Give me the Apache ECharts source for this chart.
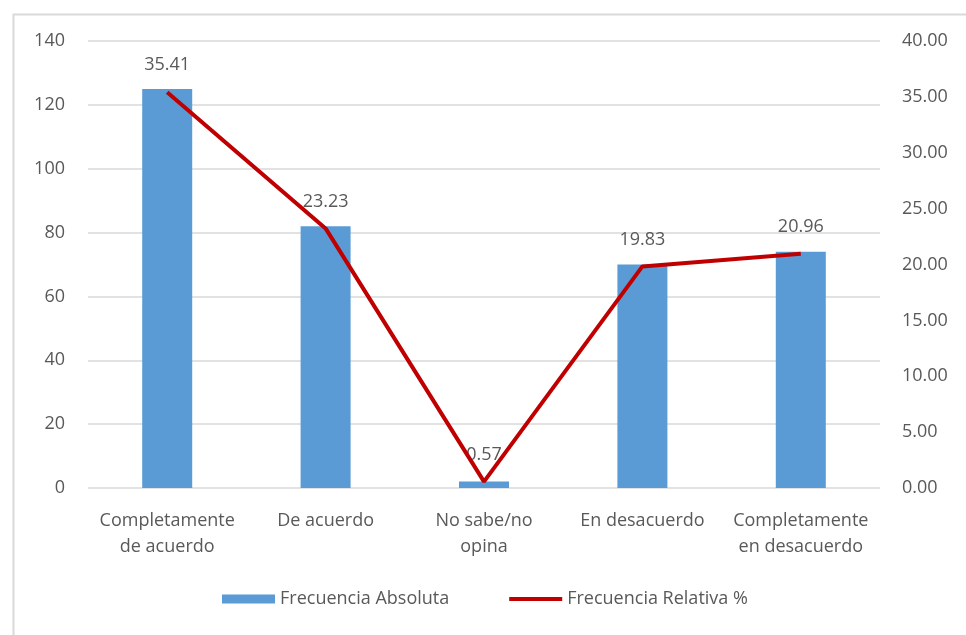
<!DOCTYPE html>
<html>
<head>
<meta charset="utf-8">
<script src="https://cdn.jsdelivr.net/npm/echarts@6/dist/echarts.min.js"></script>
<style>html,body{margin:0;padding:0;background:#fff;}#c{width:966px;height:635px;}</style>
</head>
<body>
<div id="c"></div>
<script>
const categories = ["Completamente\nde acuerdo", "De acuerdo", "No sabe/no\nopina", "En desacuerdo", "Completamente\nen desacuerdo"];
const absoluta = [125, 82, 2, 70, 74];
const relativa = [35.41, 23.23, 0.57, 19.83, 20.96];
const leftTicks = { min: 0, max: 140, interval: 20 };
const rightTicks = { min: 0, max: 40, interval: 5 };

const txt = '#595959';
const font = 'Open Sans';
const fs = 18;
const chart = echarts.init(document.getElementById('c'));
chart.setOption({
  animation: false,
  backgroundColor: '#fff',
  textStyle: { fontFamily: font },
  graphic: [{
    type: 'rect', left: 11, top: 12, shape: { width: 1000, height: 1000 },
    style: { fill: 'none', stroke: '#d9d9d9', lineWidth: 2 }, silent: true
  }],
  grid: { left: 88, right: 86, top: 41, bottom: 147 },
  legend: {
    bottom: 22, left: 217, itemWidth: 53, itemHeight: 9, itemGap: 60,
    textStyle: { color: txt, fontSize: fs, fontFamily: font },
    data: [
      { name: 'Frecuencia Absoluta', icon: 'rect' },
      { name: 'Frecuencia Relativa %', icon: 'path://M0,0L0,0M53,9L53,9M0,2.5L53,2.5L53,6.5L0,6.5Z' }
    ]
  },
  xAxis: {
    type: 'category', data: categories,
    axisLine: { show: false }, axisTick: { show: false },
    axisLabel: { color: txt, fontSize: fs, fontFamily: font, margin: 20, lineHeight: 26, interval: 0 }
  },
  yAxis: [{
    type: 'value', min: leftTicks.min, max: leftTicks.max, interval: leftTicks.interval,
    axisLine: { show: false }, axisTick: { show: false },
    axisLabel: { color: txt, fontSize: fs, fontFamily: font, margin: 23 },
    splitLine: { lineStyle: { color: '#d9d9d9', width: 1.5 } }
  }, {
    type: 'value', min: rightTicks.min, max: rightTicks.max, interval: rightTicks.interval,
    axisLine: { show: false }, axisTick: { show: false },
    axisLabel: { color: txt, fontSize: fs, fontFamily: font, margin: 22, formatter: v => v.toFixed(2) },
    splitLine: { show: false }
  }],
  series: [{
    name: 'Frecuencia Absoluta', type: 'bar', data: absoluta, barWidth: 50,
    itemStyle: { color: '#5b9bd5' }
  }, {
    name: 'Frecuencia Relativa %', type: 'line', yAxisIndex: 1, data: relativa,
    symbol: 'none',
    lineStyle: { color: '#c00000', width: 4 }, itemStyle: { color: '#c00000' }
  }, {
    name: 'labels', type: 'scatter', yAxisIndex: 1, data: relativa,
    symbolSize: 0, silent: true, itemStyle: { color: 'rgba(0,0,0,0)', opacity: 1 },
    label: { show: true, position: 'top', distance: 18, color: txt, fontSize: fs, fontFamily: font, formatter: p => p.value.toFixed(2) }
  }]
});
</script>
</body>
</html>
